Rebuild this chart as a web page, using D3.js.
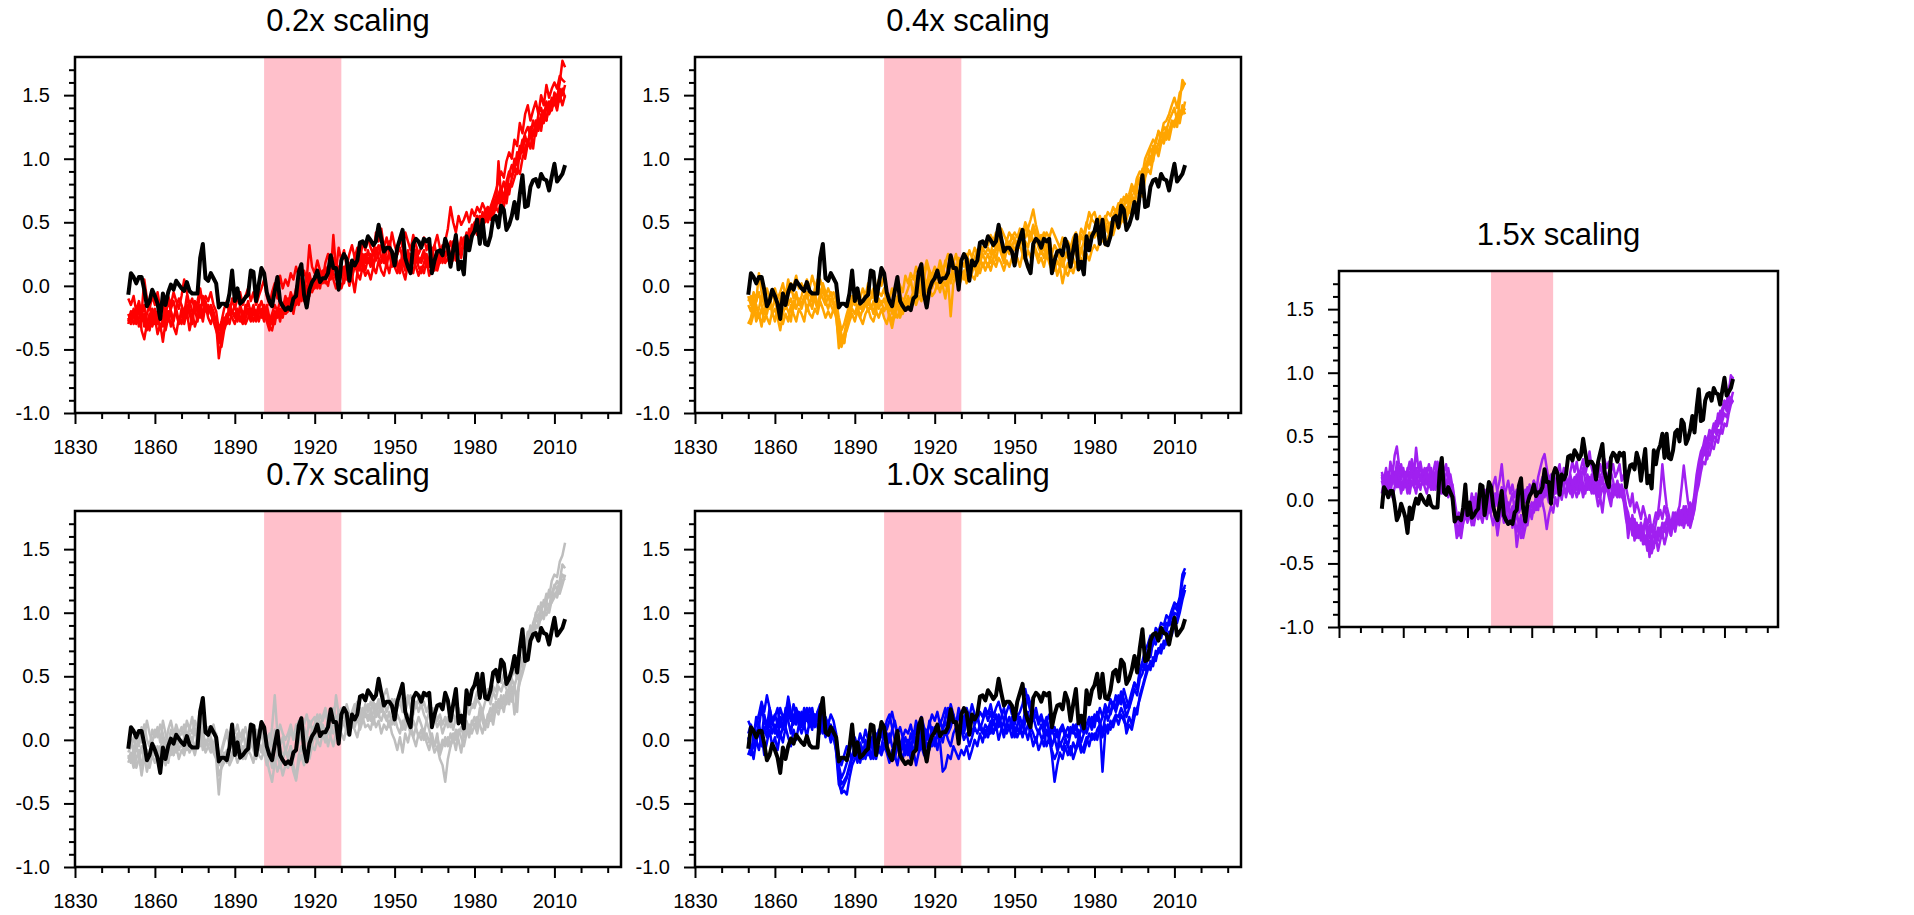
<!DOCTYPE html>
<html><head><meta charset="utf-8">
<script src="https://cdn.jsdelivr.net/npm/d3@7"></script>
<style>
body{margin:0;background:#fff;}
svg{display:block;}
text{font-family:"Liberation Sans",Arial,Helvetica,sans-serif;fill:#000;}
</style>
</head><body>
<svg id="chart" width="1914" height="915"></svg>
<script>
// ---------------- DATA ----------------
const startYear = 1850;                       // first year of every series (annual to 2014)
const xTickYears = [1830,1860,1890,1920,1950,1980,2010];
const yTickValues = [-1.0,-0.5,0.0,0.5,1.0,1.5];
const shadeYears = [1901,1930];
const titles = ["0.2x scaling","0.4x scaling","0.7x scaling","1.0x scaling","1.5x scaling"];
const colors = ["#FF0000","#FFA500","#BEBEBE","#0000FF","#A020F0"];

// observations (black, thick)
const obs = [
-0.07,0.10,0.07,0.02,0.07,0.07,-0.03,-0.16,-0.12,-0.03,
-0.08,-0.14,-0.26,-0.06,-0.15,-0.05,0.01,-0.03,0.04,0.01,
-0.02,-0.04,0.03,-0.04,-0.06,-0.06,-0.06,0.22,0.33,0.06,
0.04,0.10,0.06,0.02,-0.17,-0.14,-0.14,-0.16,-0.06,0.12,
-0.12,-0.02,-0.14,-0.12,-0.09,-0.07,0.12,0.11,-0.12,0.01,
0.14,0.10,-0.05,-0.12,-0.16,-0.04,0.07,-0.12,-0.16,-0.19,
-0.17,-0.19,-0.10,-0.08,0.11,0.17,-0.07,-0.17,-0.03,0.03,
0.06,0.12,0.03,0.06,0.06,0.10,0.24,0.14,0.14,-0.03,
0.20,0.25,0.21,0.04,0.20,0.16,0.20,0.34,0.35,0.31,
0.39,0.36,0.32,0.35,0.48,0.37,0.27,0.30,0.30,0.27,
0.16,0.30,0.37,0.44,0.22,0.15,0.10,0.33,0.37,0.35,
0.30,0.37,0.35,0.37,0.10,0.20,0.27,0.28,0.24,0.37,
0.31,0.15,0.28,0.40,0.13,0.19,0.09,0.39,0.28,0.39,
0.43,0.52,0.33,0.52,0.33,0.32,0.39,0.53,0.55,0.46,
0.63,0.60,0.44,0.48,0.55,0.66,0.53,0.72,0.87,0.62,
0.63,0.78,0.83,0.84,0.78,0.88,0.84,0.83,0.75,0.86,
0.96,0.82,0.85,0.88,0.95];

// 0.2x scaling members (red)
const red1 = [
-0.30,-0.22,-0.25,-0.18,-0.32,-0.24,-0.15,-0.28,-0.35,-0.22,
-0.18,-0.25,-0.20,-0.32,-0.22,-0.12,-0.20,-0.28,-0.17,-0.10,
-0.15,-0.22,-0.08,-0.18,-0.26,-0.14,-0.20,-0.05,-0.12,-0.18,
-0.22,-0.15,-0.20,-0.30,-0.57,-0.42,-0.30,-0.25,-0.18,-0.22,
-0.15,-0.24,-0.18,-0.26,-0.20,-0.12,-0.22,-0.15,-0.25,-0.18,
-0.12,-0.20,-0.28,-0.35,-0.22,-0.15,-0.20,-0.12,-0.18,-0.08,
-0.15,-0.05,-0.12,-0.02,0.05,-0.08,0.02,-0.05,0.10,0.00,
0.05,-0.02,0.08,0.12,0.02,0.15,0.08,0.40,0.12,0.05,
0.10,0.02,0.12,0.18,0.08,0.15,0.22,0.12,0.25,0.18,
0.28,0.20,0.15,0.25,0.32,0.22,0.18,0.28,0.35,0.25,
0.18,0.25,0.30,0.22,0.15,0.28,0.20,0.32,0.25,0.18,
0.22,0.28,0.20,0.15,0.25,0.32,0.22,0.18,0.28,0.35,
0.28,0.22,0.35,0.30,0.25,0.38,0.32,0.42,0.35,0.45,
0.50,0.42,0.55,0.48,0.60,0.52,0.58,0.65,0.62,0.98,
0.70,0.62,0.75,0.72,0.85,0.92,0.88,1.05,1.15,1.00,
1.12,1.20,1.08,1.25,1.32,1.22,1.38,1.30,1.45,1.40,
1.52,1.48,1.60,1.77,1.72];
const red2 = [
-0.25,-0.30,-0.20,-0.28,-0.15,-0.35,-0.42,-0.30,-0.22,-0.32,
-0.25,-0.38,-0.30,-0.44,-0.28,-0.20,-0.32,-0.25,-0.18,-0.28,
-0.22,-0.30,-0.20,-0.35,-0.25,-0.18,-0.28,-0.15,-0.22,-0.12,
-0.20,-0.18,-0.25,-0.28,-0.38,-0.48,-0.35,-0.28,-0.20,-0.25,
-0.30,-0.22,-0.28,-0.20,-0.26,-0.18,-0.25,-0.20,-0.28,-0.22,
-0.18,-0.25,-0.20,-0.28,-0.22,-0.30,-0.18,-0.25,-0.15,-0.22,
-0.10,-0.18,-0.08,-0.15,-0.02,-0.12,-0.05,0.08,0.02,-0.05,
0.00,0.08,-0.02,0.10,0.05,0.00,0.12,0.05,-0.02,0.08,
-0.02,0.05,0.12,0.00,0.08,-0.05,0.10,0.05,0.15,0.08,
0.12,0.05,0.15,0.10,0.20,0.12,0.08,0.18,0.10,0.22,
0.15,0.10,0.20,0.12,0.05,0.18,0.10,0.22,0.15,0.08,
0.15,0.10,0.20,0.08,0.15,0.22,0.12,0.20,0.28,0.18,
0.22,0.15,0.28,0.20,0.32,0.25,0.38,0.30,0.45,0.40,
0.48,0.55,0.45,0.58,0.50,0.62,0.55,0.68,0.60,0.72,
0.78,0.68,0.82,0.90,0.85,1.00,0.95,1.10,1.05,1.18,
1.10,1.25,1.18,1.30,1.22,1.35,1.28,1.42,1.35,1.40,
1.45,1.38,1.50,1.42,1.50];
const red3 = [
-0.10,-0.15,-0.08,-0.20,-0.12,-0.22,0.05,-0.10,-0.18,-0.08,
-0.15,-0.05,-0.18,-0.10,-0.22,-0.08,-0.15,-0.05,-0.12,-0.18,
-0.08,0.05,-0.05,-0.15,-0.10,-0.20,-0.12,-0.02,-0.15,-0.08,
-0.12,-0.05,-0.15,-0.20,-0.35,-0.28,-0.18,-0.12,-0.22,-0.10,
-0.18,-0.10,-0.05,-0.15,-0.08,-0.02,-0.12,-0.05,-0.15,-0.08,
-0.02,0.05,-0.08,-0.15,-0.05,0.02,-0.10,0.08,-0.02,0.05,
0.00,0.10,0.05,0.15,0.08,0.02,0.12,0.05,0.32,0.15,
0.10,0.20,0.12,0.05,0.18,0.25,0.15,0.22,0.12,0.30,
0.20,0.28,0.15,0.25,0.32,0.22,0.30,0.18,0.35,0.28,
0.38,0.30,0.25,0.42,0.35,0.45,0.30,0.38,0.28,0.42,
0.32,0.25,0.38,0.30,0.42,0.35,0.28,0.40,0.32,0.25,
0.30,0.38,0.28,0.35,0.25,0.32,0.40,0.30,0.22,0.35,
0.45,0.62,0.50,0.42,0.55,0.48,0.52,0.58,0.50,0.60,
0.55,0.62,0.58,0.65,0.60,0.55,0.62,0.68,0.75,0.82,
0.90,0.85,0.98,1.05,1.00,1.15,1.10,1.28,1.20,1.35,
1.42,1.30,1.38,1.45,1.35,1.50,1.42,1.58,1.48,1.55,
1.60,1.55,1.65,1.62,1.60];
const red4 = [
-0.28,-0.20,-0.30,-0.25,-0.18,-0.28,-0.22,-0.35,-0.28,-0.18,
-0.30,-0.22,-0.35,-0.25,-0.15,-0.28,-0.20,-0.32,-0.38,-0.25,
-0.30,-0.18,-0.25,-0.12,-0.20,-0.32,-0.25,-0.18,-0.28,-0.15,
-0.25,-0.30,-0.22,-0.28,-0.45,-0.38,-0.28,-0.22,-0.30,-0.20,
-0.22,-0.28,-0.15,-0.22,-0.30,-0.25,-0.18,-0.28,-0.22,-0.15,
-0.25,-0.15,-0.22,-0.32,-0.35,-0.25,-0.18,-0.28,-0.15,-0.22,
-0.20,-0.12,-0.22,-0.10,-0.15,-0.05,-0.12,0.00,-0.08,0.05,
-0.02,0.05,0.10,0.02,0.08,0.15,0.05,0.12,0.20,0.10,
0.15,0.08,0.20,0.12,0.05,0.18,0.10,0.22,0.15,0.25,
0.18,0.25,0.15,0.30,0.22,0.18,0.28,0.20,0.25,0.15,
0.22,0.15,0.10,0.20,0.12,0.25,0.18,0.10,0.22,0.15,
0.10,0.18,0.25,0.15,0.22,0.12,0.20,0.28,0.18,0.25,
0.30,0.25,0.20,0.32,0.28,0.35,0.30,0.40,0.35,0.48,
0.42,0.55,0.50,0.45,0.58,0.62,0.52,0.60,0.70,0.65,
0.75,0.82,0.70,0.88,0.95,0.90,1.05,1.00,1.12,1.20,
1.25,1.18,1.30,1.22,1.35,1.40,1.32,1.45,1.38,1.48,
1.42,1.50,1.45,1.55,1.48];
const red5 = [
-0.22,-0.28,-0.18,-0.30,-0.25,-0.20,-0.32,-0.22,-0.15,-0.28,
-0.20,-0.30,-0.22,-0.15,-0.35,-0.25,-0.18,-0.12,-0.22,-0.30,
-0.18,-0.25,-0.15,-0.22,-0.30,-0.12,-0.20,-0.25,-0.08,-0.20,
-0.15,-0.22,-0.28,-0.35,-0.42,-0.32,-0.25,-0.30,-0.15,-0.20,
-0.25,-0.18,-0.25,-0.30,-0.15,-0.22,-0.28,-0.18,-0.20,-0.28,
-0.20,-0.28,-0.15,-0.25,-0.30,-0.20,-0.25,-0.18,-0.25,-0.12,
-0.18,-0.08,-0.15,-0.05,-0.12,0.02,-0.05,-0.10,0.05,-0.02,
0.08,0.02,0.12,0.05,0.15,0.08,0.18,0.10,0.05,0.15,
0.08,0.15,0.05,0.18,0.12,0.22,0.15,0.28,0.20,0.12,
0.22,0.15,0.28,0.20,0.25,0.32,0.22,0.15,0.28,0.20,
0.25,0.18,0.12,0.28,0.20,0.15,0.25,0.18,0.28,0.22,
0.18,0.25,0.15,0.22,0.30,0.20,0.15,0.25,0.32,0.22,
0.28,0.35,0.25,0.40,0.30,0.22,0.35,0.28,0.42,0.38,
0.45,0.40,0.52,0.48,0.55,0.50,0.60,0.55,0.62,0.58,
0.68,0.72,0.65,0.80,0.78,0.85,0.92,0.88,1.00,1.08,
1.15,1.08,1.22,1.18,1.28,1.25,1.35,1.30,1.42,1.38,
1.48,1.42,1.55,1.50,1.58];

// 0.4x scaling members (orange)
const orange1 = [
-0.28,-0.30,-0.22,-0.15,-0.25,-0.18,-0.28,-0.20,-0.12,-0.22,
-0.18,-0.25,-0.35,-0.22,-0.15,-0.20,-0.28,-0.12,-0.18,-0.10,
-0.15,-0.08,-0.20,-0.12,-0.18,-0.05,-0.15,-0.10,-0.02,-0.12,
-0.18,-0.10,-0.15,-0.22,-0.49,-0.40,-0.45,-0.32,-0.25,-0.18,
-0.22,-0.15,-0.25,-0.18,-0.12,-0.20,-0.15,-0.22,-0.10,-0.18,
-0.12,-0.20,-0.15,-0.25,-0.33,-0.22,-0.15,-0.25,-0.18,-0.12,
-0.18,-0.10,-0.05,-0.12,-0.02,-0.08,0.02,-0.05,0.05,-0.02,
0.05,-0.02,0.08,0.00,-0.10,0.05,-0.24,0.02,0.10,0.05,
0.08,0.12,0.05,0.15,0.10,0.18,0.12,0.22,0.15,0.20,
0.25,0.18,0.22,0.30,0.35,0.28,0.22,0.30,0.25,0.32,
0.28,0.35,0.30,0.42,0.38,0.45,0.52,0.60,0.48,0.40,
0.35,0.42,0.30,0.38,0.25,0.32,0.28,0.20,0.30,0.25,
0.22,0.30,0.25,0.35,0.28,0.40,0.35,0.48,0.58,0.52,
0.50,0.45,0.52,0.48,0.55,0.50,0.45,0.55,0.60,0.52,
0.58,0.62,0.55,0.68,0.72,0.65,0.78,0.85,0.80,0.95,
0.98,1.08,1.05,1.15,1.20,1.18,1.25,1.22,1.30,1.35,
1.40,1.30,1.45,1.62,1.58];
const orange2 = [
-0.12,-0.08,-0.20,-0.12,-0.05,-0.15,-0.22,-0.10,-0.18,-0.05,
-0.12,-0.20,-0.10,-0.05,-0.18,-0.08,0.02,-0.10,-0.05,-0.15,
-0.08,0.00,-0.10,-0.05,-0.12,-0.02,0.05,-0.08,0.02,-0.05,
-0.10,-0.05,-0.12,-0.18,-0.35,-0.45,-0.38,-0.28,-0.20,-0.12,
-0.15,-0.08,-0.18,-0.12,-0.05,-0.15,-0.10,-0.02,-0.12,-0.05,
-0.08,-0.02,-0.12,-0.20,-0.15,-0.25,-0.10,-0.05,-0.15,-0.08,
-0.02,0.05,-0.08,0.08,0.00,0.12,0.05,0.18,0.10,0.02,
0.08,0.12,0.02,0.15,0.08,0.12,0.18,0.10,0.05,0.15,
0.10,0.05,0.18,0.12,0.22,0.15,0.08,0.18,0.25,0.20,
0.15,0.22,0.28,0.20,0.32,0.25,0.18,0.28,0.35,0.30,
0.38,0.30,0.42,0.35,0.48,0.40,0.35,0.45,0.38,0.30,
0.25,0.32,0.22,0.30,0.18,0.12,0.20,0.15,0.25,0.10,
0.18,0.12,0.22,0.15,0.25,0.30,0.22,0.35,0.30,0.42,
0.38,0.45,0.40,0.35,0.48,0.42,0.50,0.45,0.55,0.62,
0.68,0.60,0.72,0.65,0.78,0.72,0.85,0.80,0.92,0.88,
1.00,0.95,1.10,1.05,1.12,1.20,1.15,1.25,1.18,1.30,
1.28,1.35,1.32,1.42,1.38];
const orange3 = [
-0.30,-0.25,-0.15,-0.28,-0.22,-0.32,-0.18,-0.25,-0.30,-0.20,
-0.28,-0.18,-0.25,-0.30,-0.22,-0.28,-0.15,-0.22,-0.28,-0.18,
-0.22,-0.28,-0.15,-0.22,-0.25,-0.18,-0.22,-0.12,-0.18,-0.25,
-0.20,-0.25,-0.18,-0.25,-0.42,-0.48,-0.40,-0.35,-0.28,-0.22,
-0.28,-0.20,-0.25,-0.30,-0.22,-0.18,-0.25,-0.28,-0.20,-0.25,
-0.18,-0.25,-0.30,-0.22,-0.28,-0.20,-0.25,-0.18,-0.22,-0.15,
-0.12,-0.18,-0.10,-0.15,-0.08,-0.12,-0.05,-0.10,-0.02,-0.08,
-0.05,0.02,-0.05,0.05,0.00,0.08,0.02,0.10,0.05,0.00,
0.05,0.10,0.02,0.12,0.08,0.05,0.15,0.10,0.18,0.12,
0.18,0.12,0.20,0.15,0.22,0.18,0.12,0.20,0.15,0.22,
0.18,0.22,0.15,0.25,0.20,0.28,0.22,0.30,0.25,0.18,
0.22,0.15,0.25,0.18,0.12,0.20,0.08,0.15,0.02,0.12,
0.08,0.15,0.10,0.18,0.12,0.22,0.15,0.25,0.20,0.28,
0.32,0.28,0.35,0.40,0.32,0.38,0.45,0.40,0.48,0.52,
0.55,0.50,0.62,0.58,0.70,0.65,0.75,0.72,0.82,0.90,
0.95,1.02,0.98,1.10,1.05,1.15,1.12,1.20,1.15,1.25,
1.30,1.25,1.38,1.35,1.45];
const orange4 = [
-0.15,-0.20,-0.10,-0.25,-0.18,-0.08,-0.15,-0.22,-0.12,-0.18,
-0.10,-0.15,-0.22,-0.12,-0.05,-0.15,-0.10,-0.18,-0.08,-0.12,
-0.18,-0.10,-0.05,-0.15,-0.08,-0.12,-0.18,-0.05,-0.10,-0.15,
-0.08,-0.15,-0.20,-0.15,-0.30,-0.38,-0.45,-0.30,-0.22,-0.15,
-0.10,-0.18,-0.12,-0.20,-0.15,-0.08,-0.18,-0.12,-0.20,-0.10,
-0.15,-0.10,-0.18,-0.12,-0.22,-0.15,-0.08,-0.20,-0.10,-0.15,
-0.08,-0.15,-0.05,-0.10,0.05,-0.05,0.08,0.00,0.12,0.05,
0.10,0.05,0.15,0.08,0.20,0.12,0.05,0.18,0.25,0.15,
0.20,0.15,0.25,0.18,0.12,0.22,0.28,0.20,0.30,0.25,
0.30,0.25,0.35,0.28,0.38,0.32,0.25,0.35,0.30,0.40,
0.35,0.28,0.32,0.25,0.35,0.30,0.42,0.35,0.28,0.22,
0.30,0.22,0.28,0.35,0.25,0.20,0.28,0.22,0.15,0.22,
0.28,0.20,0.32,0.25,0.18,0.28,0.35,0.30,0.42,0.38,
0.45,0.40,0.35,0.42,0.50,0.45,0.38,0.48,0.52,0.45,
0.50,0.58,0.52,0.60,0.55,0.68,0.62,0.75,0.70,0.85,
0.92,0.88,1.00,1.08,1.02,1.12,1.20,1.15,1.22,1.28,
1.25,1.32,1.28,1.40,1.35];
const orange5 = [
-0.08,-0.15,-0.05,-0.12,0.10,-0.05,-0.12,-0.02,-0.10,-0.05,
-0.02,-0.10,-0.05,0.02,-0.08,0.05,-0.05,0.00,0.08,-0.02,
0.02,-0.05,0.05,-0.02,0.08,0.00,-0.05,0.05,-0.02,-0.08,
-0.02,-0.08,-0.05,-0.12,-0.25,-0.35,-0.30,-0.22,-0.15,-0.08,
-0.12,-0.05,-0.10,-0.02,-0.08,0.02,-0.05,-0.10,-0.02,0.05,
0.00,0.08,-0.05,-0.10,-0.02,-0.08,0.05,0.00,-0.05,0.08,
0.02,0.10,0.05,0.15,0.08,0.18,0.10,0.20,0.12,0.08,
0.15,0.10,0.20,0.12,0.18,0.25,0.15,0.20,0.12,0.22,
0.18,0.25,0.20,0.28,0.22,0.30,0.25,0.32,0.28,0.35,
0.32,0.40,0.35,0.42,0.38,0.45,0.40,0.35,0.42,0.38,
0.42,0.38,0.45,0.40,0.50,0.45,0.40,0.48,0.42,0.38,
0.40,0.35,0.42,0.38,0.45,0.40,0.35,0.30,0.38,0.32,
0.35,0.30,0.38,0.42,0.35,0.45,0.40,0.50,0.45,0.55,
0.58,0.50,0.55,0.48,0.52,0.58,0.55,0.62,0.58,0.65,
0.62,0.70,0.65,0.72,0.80,0.75,0.85,0.90,0.88,1.00,
1.05,1.10,1.15,1.12,1.22,1.18,1.28,1.30,1.35,1.42,
1.48,1.40,1.52,1.55,1.60];

// 0.7x scaling members (grey)
const grey1 = [
-0.15,-0.10,-0.18,-0.05,-0.12,-0.28,-0.15,-0.08,-0.20,-0.10,
-0.05,-0.15,-0.08,0.02,-0.10,-0.18,-0.05,-0.12,0.00,-0.08,
-0.02,-0.10,0.05,-0.05,0.02,-0.08,0.05,-0.02,0.08,-0.05,
0.02,-0.05,-0.10,-0.15,-0.43,-0.20,-0.15,-0.08,-0.18,-0.10,
-0.05,-0.12,-0.08,-0.15,-0.02,-0.10,0.02,-0.08,-0.15,-0.05,
-0.10,-0.02,-0.15,-0.25,-0.33,-0.18,-0.10,-0.22,-0.15,-0.08,
-0.15,-0.05,-0.20,-0.30,-0.12,-0.05,-0.15,-0.08,0.02,-0.05,
0.05,-0.02,0.10,0.02,0.08,-0.05,0.05,0.15,0.08,0.00,
0.08,0.15,0.05,0.12,0.20,0.10,0.18,0.08,0.15,0.22,
0.15,0.22,0.12,0.25,0.18,0.28,0.20,0.15,0.22,0.12,
0.18,0.10,0.05,0.15,0.08,0.20,0.12,0.02,0.10,0.18,
0.12,0.05,0.15,0.08,-0.02,-0.10,-0.05,-0.15,-0.20,-0.33,
-0.15,-0.05,0.02,-0.08,0.05,0.10,0.02,0.15,0.08,0.12,
0.18,0.10,0.25,0.15,0.08,0.20,0.15,0.28,0.22,0.32,
0.25,0.35,0.28,0.40,0.32,0.45,0.22,0.55,0.62,0.75,
0.85,0.80,0.92,0.98,1.05,1.00,1.10,1.08,1.18,1.12,
1.20,1.25,1.22,1.30,1.28];
const grey2 = [
-0.10,-0.05,0.02,-0.08,0.05,-0.02,0.12,0.00,-0.05,0.08,
0.02,0.10,-0.02,0.15,0.05,-0.05,0.08,0.02,0.12,0.05,
0.10,0.02,0.15,0.08,0.18,0.05,0.12,0.25,0.10,0.05,
0.08,0.02,-0.05,0.05,-0.12,-0.08,0.00,0.08,0.02,0.10,
0.05,0.12,0.02,0.08,-0.05,0.05,0.10,0.02,0.08,0.00,
0.05,-0.05,0.02,-0.08,0.10,0.35,0.05,-0.05,0.02,-0.10,
-0.02,0.08,0.00,0.12,0.05,0.18,0.10,0.02,0.15,0.08,
0.12,0.20,0.10,0.18,0.25,0.15,0.22,0.12,0.35,0.20,
0.25,0.18,0.28,0.20,0.15,0.25,0.30,0.22,0.18,0.28,
0.22,0.30,0.25,0.18,0.28,0.22,0.35,0.40,0.30,0.25,
0.32,0.25,0.30,0.22,0.28,0.35,0.25,0.20,0.30,0.22,
0.28,0.20,0.15,0.22,0.25,0.18,0.10,0.15,0.05,0.12,
0.18,0.10,0.20,0.15,0.25,0.18,0.12,0.22,0.30,0.25,
0.30,0.38,0.32,0.45,0.35,0.40,0.32,0.42,0.38,0.48,
0.45,0.52,0.48,0.40,0.50,0.55,0.48,0.60,0.65,0.72,
0.80,0.88,0.85,0.95,0.92,1.02,0.98,1.08,1.05,1.15,
1.22,1.18,1.25,1.38,1.35];
const grey3 = [
-0.18,-0.12,-0.22,-0.15,-0.08,-0.20,-0.12,-0.25,-0.15,-0.05,
-0.12,-0.05,-0.15,-0.08,-0.20,-0.10,-0.02,-0.12,-0.05,-0.15,
-0.08,-0.12,-0.02,-0.10,-0.05,-0.12,-0.02,0.05,-0.08,0.00,
-0.05,-0.10,-0.02,-0.12,-0.28,-0.22,-0.18,-0.12,-0.20,-0.15,
-0.10,-0.18,-0.12,-0.05,-0.15,-0.08,-0.12,-0.18,-0.05,-0.12,
-0.15,-0.08,-0.20,-0.12,-0.22,-0.15,-0.25,-0.18,-0.28,-0.20,
-0.22,-0.15,-0.25,-0.32,-0.18,-0.12,-0.20,-0.10,-0.15,-0.05,
-0.08,0.00,-0.05,0.05,-0.02,0.08,0.02,-0.05,0.05,0.10,
0.05,0.00,0.10,0.05,0.12,0.08,0.02,0.12,0.18,0.10,
0.12,0.08,0.18,0.10,0.15,0.05,0.12,0.08,0.15,0.05,
0.00,-0.08,0.02,-0.10,0.05,-0.02,0.08,0.02,-0.05,0.05,
0.00,0.08,-0.02,-0.08,0.02,-0.05,0.05,-0.12,-0.05,0.02,
-0.05,0.05,-0.02,0.08,0.00,-0.10,0.05,0.10,0.02,0.15,
0.10,0.18,0.12,0.05,0.15,0.10,0.20,0.12,0.25,0.20,
0.30,0.22,0.35,0.28,0.42,0.20,0.35,0.48,0.55,0.68,
0.78,0.90,0.85,1.00,0.95,1.08,1.05,1.15,1.12,1.25,
1.30,1.28,1.40,1.45,1.55];
const grey4 = [
-0.12,-0.18,-0.08,-0.22,-0.15,-0.05,-0.18,-0.10,-0.22,-0.12,
-0.18,-0.10,-0.05,-0.15,-0.08,0.00,-0.12,-0.05,-0.10,0.02,
-0.05,0.02,-0.08,0.05,-0.02,0.08,0.00,-0.05,0.02,-0.10,
-0.05,0.00,-0.08,-0.05,-0.20,-0.15,-0.10,-0.18,-0.08,-0.02,
-0.08,0.00,-0.05,0.05,-0.02,-0.10,-0.05,0.02,-0.08,-0.02,
-0.08,0.02,-0.05,-0.15,-0.08,-0.02,-0.12,-0.05,-0.15,-0.08,
-0.12,-0.05,-0.15,-0.08,-0.02,0.05,-0.05,0.02,-0.05,0.08,
0.02,0.10,0.05,0.12,0.05,0.15,0.10,0.05,0.12,0.18,
0.15,0.20,0.12,0.18,0.10,0.15,0.22,0.15,0.25,0.18,
0.20,0.15,0.22,0.28,0.20,0.15,0.22,0.18,0.10,0.18,
0.12,0.20,0.15,0.08,0.18,0.12,0.05,0.15,0.10,0.02,
0.08,0.00,0.05,-0.02,0.05,-0.05,0.02,-0.08,0.00,-0.05,
0.02,-0.05,0.05,0.00,0.08,0.02,-0.05,0.05,0.12,0.05,
0.12,0.05,0.15,0.22,0.12,0.18,0.25,0.18,0.30,0.25,
0.35,0.28,0.38,0.32,0.30,0.40,0.35,0.45,0.52,0.60,
0.70,0.78,0.82,0.90,0.88,0.98,0.95,1.05,1.00,1.10,
1.15,1.12,1.20,1.25,1.27];
const grey5 = [
-0.05,0.00,-0.10,0.05,-0.05,0.10,0.02,0.15,0.05,-0.02,
0.08,0.02,0.12,0.05,-0.05,0.08,0.15,0.05,0.10,0.02,
0.05,0.12,0.02,0.10,0.05,0.15,0.08,0.02,0.12,0.05,
0.10,0.05,0.12,0.02,-0.15,-0.10,-0.02,0.05,-0.05,0.02,
-0.02,0.05,-0.05,0.02,0.10,0.00,0.05,-0.05,0.02,0.08,
0.02,0.10,0.00,0.05,-0.05,0.08,0.02,0.12,0.05,0.00,
0.05,0.12,0.02,0.08,0.15,0.05,0.12,0.20,0.10,0.15,
0.18,0.10,0.20,0.15,0.22,0.12,0.18,0.25,0.15,0.22,
0.18,0.25,0.20,0.15,0.22,0.28,0.20,0.25,0.18,0.22,
0.28,0.22,0.30,0.25,0.32,0.25,0.30,0.22,0.28,0.32,
0.25,0.30,0.35,0.28,0.22,0.30,0.35,0.28,0.25,0.32,
0.25,0.30,0.22,0.28,0.18,0.25,0.15,0.20,0.12,0.18,
0.10,0.15,0.08,0.18,0.12,0.20,0.15,0.25,0.20,0.28,
0.25,0.32,0.28,0.22,0.30,0.35,0.28,0.38,0.32,0.42,
0.38,0.45,0.40,0.35,0.48,0.42,0.50,0.58,0.62,0.70,
0.75,0.82,0.80,0.88,0.92,0.95,1.00,0.98,1.05,1.08,
1.12,1.18,1.15,1.22,1.30];

// 1.0x scaling members (blue)
const blue1 = [
0.15,0.10,0.05,0.12,0.20,0.30,0.22,0.35,0.25,0.15,
0.20,0.12,0.25,0.18,0.10,0.22,0.15,0.28,0.20,0.12,
0.18,0.10,0.22,0.15,0.25,0.12,0.20,0.08,0.15,0.05,
0.10,0.02,0.08,0.00,-0.20,-0.30,-0.25,-0.18,-0.10,-0.15,
-0.08,-0.15,-0.05,-0.12,0.00,-0.08,-0.15,-0.05,0.02,-0.10,
-0.05,0.05,0.15,0.20,0.10,0.00,-0.05,-0.12,-0.05,0.02,
-0.08,0.05,-0.02,0.10,0.02,-0.05,0.08,0.00,0.15,0.05,
0.10,0.02,0.15,0.08,0.18,0.25,0.12,0.20,0.10,0.05,
0.12,0.05,0.15,0.08,0.20,0.12,0.18,0.10,0.05,0.12,
0.08,0.15,0.05,0.12,0.18,0.10,0.02,0.12,0.08,0.15,
0.05,0.12,0.18,0.10,0.25,0.35,0.28,0.18,0.10,0.05,
0.12,0.05,0.15,0.08,-0.05,0.02,-0.08,0.05,0.10,0.02,
-0.05,0.05,0.10,0.02,0.08,-0.02,0.05,0.12,0.15,0.08,
0.15,0.20,0.12,0.18,0.25,0.15,0.22,0.30,0.25,0.35,
0.28,0.40,0.32,0.25,0.35,0.45,0.40,0.52,0.60,0.55,
0.65,0.70,0.75,0.82,0.80,0.88,0.85,0.92,0.90,0.98,
1.05,1.02,1.10,1.25,1.32];
const blue2 = [
0.02,-0.10,-0.05,0.05,0.12,0.02,0.20,0.10,0.25,0.15,
0.05,0.15,0.02,0.10,0.20,0.34,0.22,0.15,0.25,0.18,
0.10,0.22,0.15,0.25,0.18,0.10,0.22,0.28,0.15,0.08,
0.15,0.05,0.10,-0.05,-0.30,-0.42,-0.40,-0.43,-0.30,-0.20,
-0.15,-0.10,-0.18,-0.08,-0.12,-0.05,-0.10,-0.15,-0.02,-0.08,
-0.12,-0.05,-0.10,-0.18,-0.08,-0.15,-0.05,-0.10,-0.02,-0.12,
-0.05,-0.15,-0.08,-0.20,-0.10,-0.05,-0.12,-0.02,-0.08,0.00,
-0.05,0.05,-0.02,-0.25,-0.22,-0.12,-0.15,-0.05,-0.10,-0.15,
-0.08,-0.12,-0.05,-0.15,-0.08,0.00,-0.05,0.05,-0.02,0.08,
0.02,0.10,0.05,0.12,0.00,0.08,0.15,0.05,0.10,0.02,
0.10,0.02,0.08,0.15,0.05,0.12,0.05,-0.05,0.02,-0.08,
-0.02,0.05,-0.05,0.02,-0.12,-0.33,-0.20,-0.10,-0.15,-0.05,
-0.12,-0.05,-0.15,-0.08,-0.02,-0.10,-0.05,0.02,-0.05,0.05,
0.00,0.08,0.12,-0.25,0.05,0.12,0.08,0.15,0.20,0.18,
0.25,0.20,0.05,0.12,0.08,0.18,0.25,0.32,0.40,0.48,
0.55,0.62,0.58,0.70,0.68,0.75,0.72,0.80,0.85,0.82,
0.92,0.95,1.05,1.15,1.22];
const blue3 = [
-0.10,-0.12,0.05,-0.02,0.08,-0.05,0.10,0.02,0.15,0.05,
0.12,0.02,0.18,0.08,0.25,0.15,0.05,0.20,0.12,0.22,
0.15,0.25,0.18,0.10,0.20,0.12,0.22,0.15,0.05,0.12,
0.05,0.12,0.02,-0.08,-0.25,-0.35,-0.32,-0.28,-0.20,-0.12,
-0.05,-0.12,-0.02,-0.08,-0.15,-0.05,0.02,-0.08,0.05,-0.02,
0.05,0.12,0.08,0.15,0.22,0.12,0.05,-0.05,0.02,-0.08,
0.00,-0.10,0.05,-0.05,0.10,0.02,-0.08,0.05,-0.02,0.10,
0.05,0.12,0.02,0.08,0.15,0.05,0.10,0.18,0.12,0.25,
0.18,0.10,0.22,0.15,0.05,0.12,0.20,0.08,0.15,0.22,
0.15,0.22,0.12,0.20,0.10,0.18,0.25,0.15,0.08,0.18,
0.12,0.20,0.10,0.02,0.15,0.22,0.12,0.18,0.25,0.15,
0.20,0.12,0.18,0.05,0.10,0.02,0.08,-0.05,0.00,0.05,
0.02,0.10,0.05,0.12,0.02,0.08,0.15,0.05,0.12,0.18,
0.10,0.22,0.15,0.05,0.18,0.25,0.20,0.28,0.22,0.30,
0.35,0.28,0.18,0.25,0.32,0.40,0.35,0.48,0.52,0.62,
0.70,0.65,0.78,0.75,0.85,0.80,0.88,0.85,0.95,0.90,
1.00,0.98,1.08,1.18,1.20];
const blue4 = [
-0.12,-0.05,-0.15,0.00,-0.08,0.05,-0.12,-0.02,0.08,-0.05,
0.02,-0.08,0.05,-0.02,0.10,0.02,-0.05,0.08,0.00,0.12,
0.05,0.12,0.02,0.15,0.08,0.20,0.10,0.05,0.12,0.02,
0.08,-0.02,0.05,-0.10,-0.35,-0.40,-0.35,-0.30,-0.22,-0.15,
-0.10,-0.18,-0.08,-0.15,-0.05,-0.12,-0.02,-0.10,-0.15,-0.05,
-0.10,-0.02,-0.08,0.05,-0.05,-0.12,-0.20,-0.08,-0.15,-0.05,
-0.12,-0.02,-0.10,0.02,-0.08,0.05,-0.02,0.08,0.02,-0.05,
0.02,-0.08,0.05,-0.02,0.08,0.00,-0.05,0.05,0.10,0.02,
0.08,0.00,0.05,-0.05,0.02,0.10,0.05,0.12,0.08,0.02,
0.10,0.05,0.15,0.08,0.20,0.12,0.05,0.12,0.18,0.10,
0.02,0.10,0.05,0.12,0.08,0.00,0.10,0.05,-0.02,0.08,
0.02,-0.05,0.08,0.00,-0.08,-0.15,-0.10,-0.02,-0.08,0.00,
-0.05,-0.12,-0.02,-0.08,0.02,-0.05,-0.10,-0.02,0.05,0.00,
0.05,0.00,0.10,0.02,0.12,0.05,0.15,0.10,0.18,0.12,
0.20,0.15,0.10,0.18,0.12,0.25,0.20,0.35,0.42,0.50,
0.58,0.55,0.65,0.62,0.72,0.68,0.78,0.75,0.82,0.88,
0.95,0.92,1.00,1.10,1.18];
const blue5 = [
0.05,0.12,0.02,0.18,0.10,0.25,0.15,0.08,0.20,0.12,
0.18,0.25,0.10,0.20,0.15,0.28,0.18,0.12,0.22,0.15,
0.22,0.15,0.25,0.18,0.12,0.20,0.15,0.22,0.10,0.18,
0.12,0.20,0.15,0.05,-0.15,-0.20,-0.12,-0.05,-0.10,0.00,
0.02,-0.05,0.05,-0.02,0.08,0.00,-0.05,0.05,-0.02,0.08,
0.02,0.10,0.05,-0.02,0.08,0.15,0.05,0.10,0.02,0.08,
0.05,0.12,0.02,0.15,0.08,0.18,0.10,0.05,0.12,0.20,
0.15,0.22,0.12,0.18,0.25,0.15,0.28,0.20,0.12,0.18,
0.22,0.15,0.25,0.18,0.28,0.20,0.15,0.22,0.18,0.25,
0.20,0.28,0.18,0.25,0.30,0.22,0.15,0.22,0.28,0.20,
0.25,0.18,0.22,0.28,0.40,0.30,0.22,0.15,0.20,0.12,
0.18,0.10,0.15,0.20,0.05,0.10,0.02,0.08,0.12,0.05,
0.10,0.05,0.12,0.08,0.15,0.10,0.05,0.12,0.18,0.10,
0.20,0.15,0.25,0.18,0.28,0.22,0.32,0.25,0.35,0.28,
0.38,0.32,0.25,0.30,0.38,0.45,0.40,0.55,0.62,0.70,
0.75,0.82,0.78,0.88,0.85,0.92,0.90,0.98,0.95,1.02,
1.08,1.05,1.12,1.30,1.35];

// 1.5x scaling members (purple)
const purple1 = [
0.22,0.15,0.25,0.12,0.30,0.20,0.35,0.42,0.28,0.18,
0.25,0.15,0.22,0.30,0.18,0.25,0.12,0.20,0.28,0.15,
0.22,0.12,0.18,0.25,0.15,0.08,0.20,0.12,0.05,0.15,
0.10,0.18,0.08,0.02,-0.15,-0.30,-0.25,-0.18,-0.10,-0.15,
-0.05,-0.12,-0.02,-0.10,0.05,-0.08,0.02,-0.12,-0.05,0.08,
0.02,-0.10,-0.02,-0.15,-0.25,-0.12,-0.05,-0.15,-0.08,-0.18,
-0.10,-0.22,-0.15,-0.37,-0.25,-0.15,-0.20,-0.10,-0.15,-0.05,
-0.12,-0.02,-0.08,0.05,-0.05,0.10,0.02,0.15,0.08,0.00,
0.08,0.15,0.05,0.12,0.20,0.10,0.18,0.08,0.15,0.05,
0.12,0.20,0.10,0.18,0.25,0.15,0.08,0.18,0.12,0.22,
0.15,0.08,0.20,0.12,0.25,0.18,0.10,0.22,0.15,0.05,
0.10,0.02,0.12,0.05,-0.10,-0.30,-0.18,-0.25,-0.15,-0.28,
-0.20,-0.30,-0.22,-0.35,-0.28,-0.45,-0.30,-0.38,-0.25,-0.32,
-0.22,-0.30,-0.18,-0.28,-0.15,-0.22,-0.10,-0.20,-0.12,-0.18,
-0.08,-0.15,-0.05,-0.12,-0.02,-0.08,0.05,0.20,0.30,0.38,
0.42,0.35,0.48,0.52,0.45,0.58,0.52,0.65,0.60,0.70,
0.75,0.70,0.82,0.78,0.85];
const purple2 = [
0.15,0.08,0.20,0.05,0.15,0.25,0.12,0.20,0.10,0.28,
0.18,0.10,0.25,0.15,0.32,0.20,0.41,0.25,0.15,0.22,
0.12,0.20,0.28,0.18,0.10,0.22,0.15,0.05,0.12,0.20,
0.15,0.05,0.12,0.08,-0.05,-0.20,-0.28,-0.22,-0.12,-0.05,
-0.10,-0.02,-0.15,0.02,-0.08,-0.15,-0.05,0.05,-0.02,-0.10,
0.00,0.10,0.05,-0.05,0.08,0.15,0.28,0.10,0.02,-0.08,
-0.02,0.05,-0.08,0.02,-0.10,-0.05,0.05,-0.02,0.10,0.02,
0.08,0.15,0.05,0.18,0.25,0.32,0.36,0.25,0.15,0.20,
0.12,0.05,0.15,0.08,0.18,0.12,0.02,0.10,0.05,0.15,
0.08,0.15,0.05,0.12,0.02,0.10,0.18,0.08,0.15,0.05,
0.12,0.02,0.10,0.18,0.08,0.15,0.22,0.10,0.02,0.08,
0.15,0.05,0.10,0.02,-0.05,-0.15,-0.22,-0.12,-0.25,-0.18,
-0.28,-0.18,-0.25,-0.15,-0.22,-0.30,-0.20,-0.28,-0.18,-0.10,
0.05,0.28,0.10,-0.05,-0.12,-0.20,-0.15,-0.22,-0.10,-0.05,
0.10,0.27,0.12,-0.02,-0.10,-0.05,0.02,0.12,0.25,0.32,
0.38,0.45,0.40,0.50,0.48,0.55,0.62,0.58,0.70,0.65,
0.78,0.72,0.85,0.98,0.95];
const purple3 = [
0.20,0.12,0.05,0.18,0.08,0.15,0.22,0.10,0.18,0.05,
0.12,0.20,0.08,0.18,0.25,0.12,0.05,0.15,0.08,0.18,
0.10,0.05,0.15,0.08,0.20,0.12,0.25,0.18,0.10,0.05,
0.12,0.02,0.08,-0.02,-0.10,-0.25,-0.20,-0.30,-0.18,-0.12,
-0.18,-0.10,-0.20,-0.12,-0.05,-0.15,-0.08,-0.02,-0.12,-0.05,
-0.10,0.02,-0.08,0.05,-0.02,-0.12,-0.05,0.05,-0.10,-0.02,
-0.12,-0.05,-0.15,-0.25,-0.18,-0.30,-0.22,-0.12,-0.20,-0.08,
-0.15,-0.05,0.02,-0.08,0.05,-0.02,-0.10,-0.23,-0.12,-0.05,
-0.10,0.02,-0.05,0.08,0.00,0.10,0.05,0.15,0.08,0.02,
0.10,0.02,0.08,0.15,0.05,0.12,0.20,0.12,0.05,0.15,
0.08,0.15,0.02,0.10,0.05,0.15,0.08,0.00,0.12,0.05,
0.02,0.10,0.05,-0.02,-0.15,-0.22,-0.15,-0.28,-0.20,-0.30,
-0.22,-0.32,-0.25,-0.18,-0.28,-0.20,-0.35,-0.25,-0.30,-0.22,
-0.28,-0.18,-0.25,-0.15,-0.22,-0.28,-0.18,-0.25,-0.15,-0.20,
-0.12,-0.22,-0.15,-0.08,-0.18,-0.10,-0.02,0.10,0.18,0.28,
0.35,0.40,0.32,0.45,0.42,0.50,0.48,0.55,0.52,0.62,
0.68,0.65,0.72,0.80,0.77];
const purple4 = [
0.05,0.15,0.08,0.22,0.12,0.02,0.10,0.18,0.25,0.15,
0.08,0.15,0.05,0.12,0.22,0.28,0.18,0.10,0.20,0.12,
0.18,0.25,0.10,0.15,0.08,0.18,0.30,0.20,0.12,0.22,
0.28,0.15,0.20,0.10,-0.05,-0.15,-0.10,-0.25,-0.18,-0.10,
-0.15,-0.05,-0.12,-0.20,-0.10,-0.02,-0.12,-0.18,-0.08,-0.15,
-0.05,-0.12,-0.20,-0.10,-0.28,-0.15,-0.08,-0.18,-0.10,-0.05,
-0.15,-0.08,-0.18,-0.10,-0.20,-0.12,-0.30,-0.22,-0.15,-0.08,
-0.02,-0.10,0.02,-0.05,0.08,0.00,0.12,0.05,-0.02,0.10,
0.02,0.10,0.18,0.05,0.12,0.22,0.15,0.08,0.20,0.12,
0.18,0.08,0.15,0.22,0.12,0.05,0.15,0.08,0.20,0.12,
0.05,-0.05,0.02,-0.10,0.05,0.10,0.02,-0.05,0.08,0.12,
0.05,0.12,0.02,0.08,-0.05,-0.10,-0.20,-0.15,-0.32,-0.22,
-0.30,-0.22,-0.35,-0.28,-0.40,-0.32,-0.42,-0.35,-0.30,-0.40,
-0.32,-0.25,-0.35,-0.28,-0.20,-0.25,-0.15,-0.22,-0.18,-0.12,
-0.20,-0.12,-0.18,-0.10,-0.22,-0.15,-0.08,0.05,0.12,0.22,
0.30,0.28,0.38,0.35,0.42,0.40,0.48,0.45,0.55,0.52,
0.60,0.58,0.68,0.75,0.78];
const purple5 = [
0.18,0.10,0.22,0.15,0.05,0.20,0.12,0.30,0.18,0.08,
0.15,0.22,0.12,0.05,0.15,0.10,0.25,0.18,0.30,0.20,
0.25,0.15,0.20,0.12,0.22,0.30,0.18,0.10,0.20,0.15,
0.20,0.25,0.15,0.12,0.00,-0.12,-0.18,-0.15,-0.05,-0.10,
-0.02,-0.08,0.05,-0.05,0.02,-0.10,0.05,-0.02,0.08,0.00,
0.08,0.02,0.12,0.18,0.05,0.00,0.10,0.02,0.08,0.15,
0.05,0.12,0.02,0.08,-0.05,0.05,-0.02,0.08,0.00,0.12,
0.05,0.15,0.10,0.02,0.12,0.18,0.10,0.05,0.18,0.12,
0.20,0.12,0.22,0.28,0.15,0.25,0.18,0.10,0.22,0.30,
0.22,0.30,0.18,0.25,0.32,0.20,0.28,0.38,0.25,0.18,
0.25,0.18,0.28,0.20,0.32,0.25,0.30,0.22,0.28,0.18,
0.22,0.28,0.15,0.20,0.10,0.02,-0.05,0.05,-0.10,-0.02,
-0.08,-0.15,-0.05,-0.12,-0.20,-0.12,-0.25,-0.18,-0.10,-0.15,
-0.08,-0.15,-0.05,-0.12,-0.20,-0.28,-0.18,-0.10,-0.15,-0.08,
-0.15,-0.05,-0.12,-0.20,-0.08,-0.15,-0.05,0.08,0.20,0.35,
0.42,0.50,0.45,0.55,0.52,0.60,0.55,0.68,0.62,0.72,
0.78,0.75,0.88,0.92,0.97];

const memberSets = [
  [red1,red2,red3,red4,red5],
  [orange1,orange2,orange3,orange4,orange5],
  [grey1,grey2,grey3,grey4,grey5],
  [blue1,blue2,blue3,blue4,blue5],
  [purple1,purple2,purple3,purple4,purple5]
];

// ---------------- LAYOUT ----------------
const panelBoxes = [
  {left:75,  top:57,  width:546, height:356, xLabels:true},
  {left:695, top:57,  width:546, height:356, xLabels:true},
  {left:75,  top:511, width:546, height:356, xLabels:true},
  {left:695, top:511, width:546, height:356, xLabels:true},
  {left:1339,top:271, width:439, height:356, xLabels:false}
];
const xDomain = [1830, 2035];
const yDomain = [-1.0, 1.8];
const minorX = d3.range(1840, 2035, 10).filter(v => !xTickYears.includes(v));
const minorY = d3.range(-9, 18).map(v => v / 10).filter(v => Math.abs(v*2 - Math.round(v*2)) > 1e-6);

const svg = d3.select("#chart");

panelBoxes.forEach((box, p) => {
  const g = svg.append("g").attr("transform", `translate(${box.left},${box.top})`);
  const xs = d3.scaleLinear().domain(xDomain).range([0, box.width]);
  const ys = d3.scaleLinear().domain(yDomain).range([box.height, 0]);

  // shading
  g.append("rect")
    .attr("x", xs(shadeYears[0])).attr("y", 0)
    .attr("width", xs(shadeYears[1]) - xs(shadeYears[0]))
    .attr("height", box.height)
    .attr("fill", "#FFC0CB");

  const line = d3.line().x((d, i) => xs(startYear + i)).y(d => ys(d));

  memberSets[p].forEach(series => {
    g.append("path").datum(series)
      .attr("d", line).attr("fill", "none")
      .attr("stroke", colors[p]).attr("stroke-width", 2.5)
      .attr("stroke-linejoin", "round");
  });
  g.append("path").datum(obs)
    .attr("d", line).attr("fill", "none")
    .attr("stroke", "#000").attr("stroke-width", 4)
    .attr("stroke-linejoin", "round");

  // y axis
  const yMajor = g.append("g").call(
    d3.axisLeft(ys).tickValues(yTickValues).tickSize(11).tickPadding(14)
      .tickFormat(d => d.toFixed(1)));
  yMajor.select(".domain").remove();
  const yMinor = g.append("g").call(
    d3.axisLeft(ys).tickValues(minorY).tickSize(6).tickFormat(""));
  yMinor.select(".domain").remove();

  // x axis
  const xMajor = g.append("g").attr("transform", `translate(0,${box.height})`).call(
    d3.axisBottom(xs).tickValues(xTickYears).tickSize(11).tickPadding(16)
      .tickFormat(d => box.xLabels ? String(d) : ""));
  xMajor.select(".domain").remove();
  const xMinor = g.append("g").attr("transform", `translate(0,${box.height})`).call(
    d3.axisBottom(xs).tickValues(minorX).tickSize(6).tickFormat(""));
  xMinor.select(".domain").remove();

  g.selectAll(".tick line").attr("stroke", "#000").attr("stroke-width", 2);
  g.selectAll(".tick text").attr("font-size", 20).attr("fill", "#000")
    .attr("font-family", "'Liberation Sans', Arial, Helvetica, sans-serif");

  // frame
  g.append("rect").attr("x", 0).attr("y", 0)
    .attr("width", box.width).attr("height", box.height)
    .attr("fill", "none").attr("stroke", "#000").attr("stroke-width", 2.5);

  // title
  g.append("text")
    .attr("x", box.width / 2).attr("y", -26)
    .attr("text-anchor", "middle")
    .attr("font-size", 31)
    .text(titles[p]);
});
</script>
</body></html>
